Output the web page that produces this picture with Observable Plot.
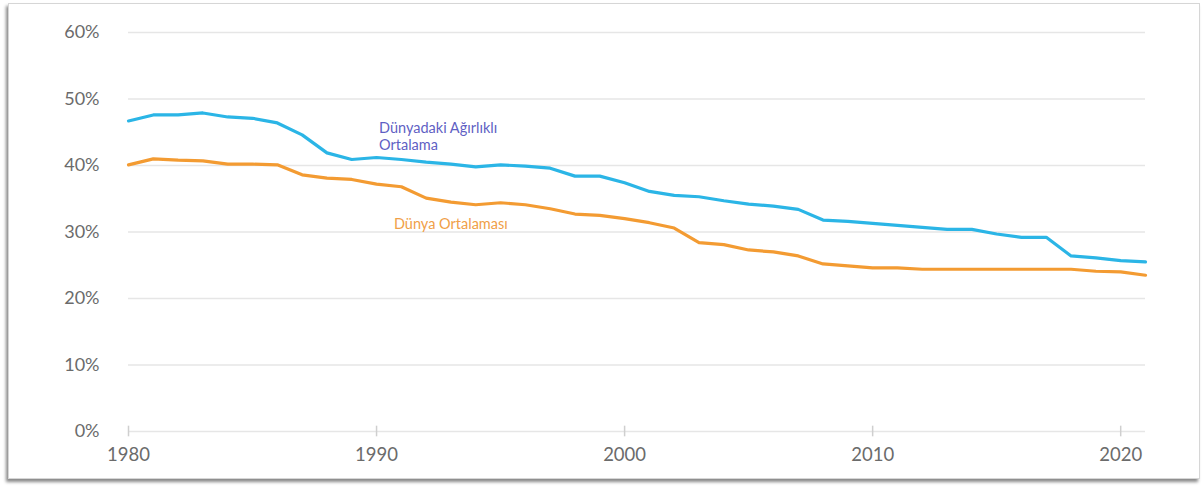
<!DOCTYPE html>
<html>
<head>
<meta charset="utf-8">
<script src="https://cdn.jsdelivr.net/npm/d3@7"></script>
<script src="https://cdn.jsdelivr.net/npm/@observablehq/plot@0.6"></script>
<style>
  html, body { margin: 0; padding: 0; background: #fff; }
  #wrap { position: relative; width: 1203px; height: 486px; overflow: hidden; }
  #frame { position: absolute; left: 8px; top: 3px; width: 1190px; height: 474px;
           border: 1px solid #d6d6d6; box-shadow: -2px 3px 3px #8a8a8a; background: #fff; }
  #chart { position: absolute; left: 0; top: 0; }
</style>
</head>
<body>
<div id="wrap"><div id="frame"></div><div id="chart"></div></div>
<script>
const years = d3.range(1980, 2022);
// Dünyadaki Ağırlıklı Ortalama (weighted world average), %
const weighted = [46.7, 47.6, 47.6, 47.9, 47.3, 47.1, 46.4, 44.6, 41.9, 40.9,
                  41.2, 40.9, 40.5, 40.2, 39.8, 40.1, 39.9, 39.6, 38.4, 38.4,
                  37.4, 36.1, 35.5, 35.3, 34.7, 34.2, 33.9, 33.4, 31.8, 31.6,
                  31.3, 31.0, 30.7, 30.4, 30.4, 29.7, 29.2, 29.2, 26.4, 26.1,
                  25.7, 25.5];
// Dünya Ortalaması (world average), %
const simple = [40.1, 41.0, 40.8, 40.7, 40.2, 40.2, 40.1, 38.6, 38.1, 37.9,
                37.2, 36.8, 35.1, 34.5, 34.1, 34.4, 34.1, 33.5, 32.7, 32.5,
                32.0, 31.4, 30.6, 28.4, 28.1, 27.3, 27.0, 26.4, 25.2, 24.9,
                24.6, 24.6, 24.4, 24.4, 24.4, 24.4, 24.4, 24.4, 24.4, 24.1,
                24.0, 23.5];
const yTicks = [0, 0.1, 0.2, 0.3, 0.4, 0.5, 0.6];
const xTicks = [1980, 1990, 2000, 2010, 2020];
const labelsWeighted = [
  {year: 1990.1, value: 0.4560, text: "Dünyadaki Ağırlıklı"},
  {year: 1990.1, value: 0.4298, text: "Ortalama"}
];
const labelsSimple = [{year: 1990.7, value: 0.311, text: "Dünya Ortalaması"}];

const weightedData = years.map((y, i) => ({year: y, value: weighted[i] / 100}));
const simpleData = years.map((y, i) => ({year: y, value: simple[i] / 100}));

const chart = Plot.plot({
  width: 1203,
  height: 486,
  marginLeft: 128,
  marginRight: 58,
  marginTop: 32,
  marginBottom: 55,
  style: {fontFamily: "Lato, 'Open Sans', sans-serif", background: "transparent"},
  x: {domain: [1980, 2021]},
  y: {domain: [0, 0.6]},
  marks: [
    Plot.ruleY(yTicks, {stroke: "#e6e6e6", strokeWidth: 1.5}),
    Plot.ruleX(xTicks, {y1: -0.008, y2: 0.008, stroke: "#cfcfcf", strokeWidth: 1.5}),
    Plot.axisY({ticks: yTicks, tickFormat: d3.format(".0%"), tickSize: 0, tickPadding: 29,
                fontSize: 18, fill: "#6b6b6b", label: null,
                style: {letterSpacing: "1.5px"}}),
    Plot.axisX({ticks: xTicks, tickFormat: d => String(d), tickSize: 0, tickPadding: 16,
                fontSize: 18.5, fill: "#6b6b6b", label: null,
                style: {letterSpacing: "1.3px"}}),
    Plot.line(simpleData, {x: "year", y: "value", stroke: "#f39b32", strokeWidth: 3.2}),
    Plot.line(weightedData, {x: "year", y: "value", stroke: "#2bb5e6", strokeWidth: 3.2}),
    Plot.text(labelsWeighted, {x: "year", y: "value", text: "text", textAnchor: "start",
                fontSize: 14.5, fill: "#5f5fc4", style: {letterSpacing: "1px"}}),
    Plot.text(labelsSimple, {x: "year", y: "value", text: "text", textAnchor: "start",
                fontSize: 14.5, fill: "#f0a048", style: {letterSpacing: "1px"}})
  ]
});
document.getElementById("chart").appendChild(chart);
</script>
</body>
</html>
